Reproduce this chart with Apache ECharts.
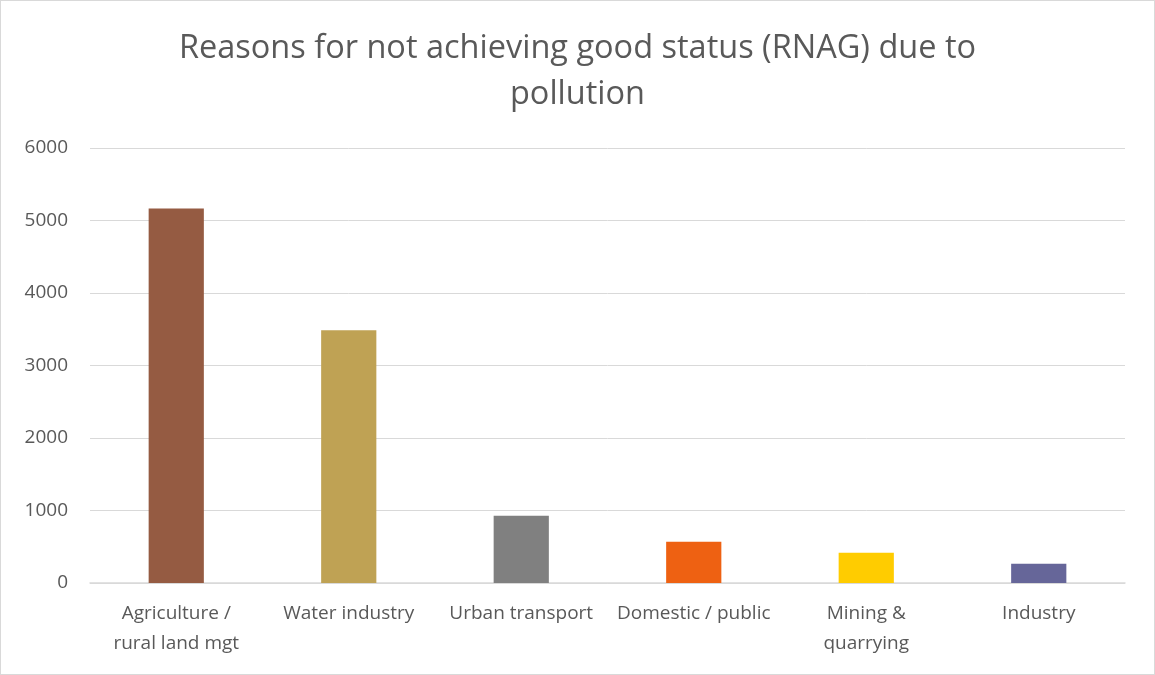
<!DOCTYPE html>
<html><head><meta charset="utf-8">
<script src="https://cdn.jsdelivr.net/npm/echarts@6/dist/echarts.min.js"></script>
<style>html,body{margin:0;padding:0;background:#fff}#c{width:1155px;height:675px;box-sizing:border-box;border:1px solid #d9d9d9}</style>
</head><body><div id="c"></div>
<script>
const categories = ['Agriculture /\nrural land mgt', 'Water industry', 'Urban transport', 'Domestic / public', 'Mining &\nquarrying', 'Industry'];
const values = [5165, 3486, 926, 568, 417, 266];
const colors = ['#955B42', '#BFA254', '#808080', '#EE6112', '#FFCC00', '#666699'];
const yTicks = [0, 1000, 2000, 3000, 4000, 5000, 6000];

const chart = echarts.init(document.getElementById('c'));
chart.setOption({
  animation: false,
  title: {
    text: 'Reasons for not achieving good status (RNAG) due to\npollution',
    left: 'center', top: 20,
    textStyle: { fontFamily: 'Open Sans', fontWeight: 'normal', fontSize: 32.5, color: '#595959', lineHeight: 46 }
  },
  grid: { left: 89, right: 29, top: 147, bottom: 91, containLabel: false },
  xAxis: {
    type: 'category', data: categories,
    axisLine: { lineStyle: { color: '#d9d9d9', width: 1.5 } },
    axisTick: { show: false },
    axisLabel: { color: '#595959', fontFamily: 'Open Sans', fontSize: 19, lineHeight: 30, margin: 16, interval: 0 }
  },
  yAxis: {
    type: 'value', min: yTicks[0], max: yTicks[yTicks.length - 1], interval: 1000,
    axisLine: { show: false }, axisTick: { show: false },
    splitLine: { lineStyle: { color: '#d9d9d9', width: 1 } },
    axisLabel: { color: '#595959', fontFamily: 'Open Sans', fontSize: 19, margin: 22, formatter: v => String(v) }
  },
  series: [{
    type: 'bar', data: values.map((v, i) => ({ value: v, itemStyle: { color: colors[i] } })),
    barWidth: '32%'
  }]
});
</script></body></html>
